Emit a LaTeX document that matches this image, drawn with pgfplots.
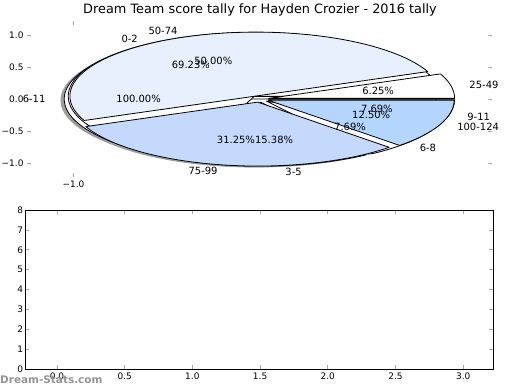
\documentclass[border=0pt]{standalone}
\usepackage{fontspec}
\setmainfont{DejaVu Sans}
\usepackage{pgfplots}
\pgfplotsset{compat=1.18}
\pgfkeys{/pgf/number format/assume math mode=true}

\definecolor{cA}{HTML}{E9F0FD}
\definecolor{cB}{HTML}{C5D9FD}
\definecolor{cC}{HTML}{B3D5FE}

\def\XU{186bp}
\def\YU{63.93bp}
\newcommand\lblfont{\fontsize{10}{12}\selectfont}

% counts per slice / fill colour / label
\def\pieC{1/white/6-11}
\def\pieB{9/white/0-2, 2/white/3-5, 1/white/6-8, 1/white/9-11}
\def\pieA{1/white/25-49, 8/cA/50-74, 5/cB/75-99, 2/cC/100-124}

% #1 mode (0 shadow, 1 wedges, 2 labels), #2 explode, #3 list
\newcommand\drawpie[3]{%
  \gdef\tot{0}%
  \foreach \v/\col/\lab in #3{\pgfmathsetmacro\t{\tot+\v}\xdef\tot{\t}}%
  \gdef\cumold{0}%
  \foreach \v/\col/\lab in #3{%
    \pgfmathsetmacro\cumnew{\cumold+\v}%
    \pgfmathsetmacro\sa{360*\cumold/\tot}%
    \pgfmathsetmacro\ea{360*\cumnew/\tot}%
    \pgfmathsetmacro\ma{(\sa+\ea)/2}%
    \pgfmathsetmacro\dx{#2*cos(\ma)}%
    \pgfmathsetmacro\dy{#2*sin(\ma)}%
    \pgfmathsetmacro\sx{186*cos(\sa)}%
    \pgfmathsetmacro\sy{63.93*sin(\sa)}%
    \ifcase#1
      \pgfmathsetmacro\sdx{\dx-0.02}%
      \pgfmathsetmacro\sdy{\dy-0.02}%
      \fill[black!38] (axis cs:\sdx,\sdy) -- ++(\sx bp,\sy bp)
        arc[start angle=\sa,end angle=\ea,x radius=\XU,y radius=\YU] -- cycle;
    \or
      \filldraw[fill=\col,draw=black,line width=0.8bp,line join=round]
        (axis cs:\dx,\dy) -- ++(\sx bp,\sy bp)
        arc[start angle=\sa,end angle=\ea,x radius=\XU,y radius=\YU] -- cycle;
    \or
      \pgfmathsetmacro\lx{\dx+1.1*cos(\ma)}%
      \pgfmathsetmacro\ly{\dy+1.1*sin(\ma)}%
      \pgfmathsetmacro\px{\dx+0.6*cos(\ma)}%
      \pgfmathsetmacro\py{\dy+0.6*sin(\ma)}%
      \pgfmathsetmacro\pct{100*\v/\tot}%
      \ifdim\lx pt>0pt \def\anc{west}\else\def\anc{east}\fi
      \node[anchor=\anc,inner sep=0pt,font=\lblfont] at (axis cs:\lx,\ly) {\lab};
      \node[inner sep=0pt,font=\lblfont] at (axis cs:\px,\py)
        {\pgfmathprintnumber[fixed,fixed zerofill,precision=2]{\pct}\%};
    \fi
    \xdef\cumold{\cumnew}%
  }%
}

\begin{document}
\begin{tikzpicture}
\useasboundingbox (0,0) rectangle (520bp,390bp);

\node[font=\fontsize{12.9}{15}\selectfont] at (260bp,380bp)
  {Dream Team score tally for Hayden Crozier - 2016 tally};

\begin{axis}[
  at={(27bp,213bp)}, anchor=south west, scale only axis,
  width=465bp, height=156bp,
  xmin=-1.25, xmax=1.25, ymin=-1.22, ymax=1.22,
  axis line style={draw=none},
  xtick={-1}, xticklabels={−1.0},
  ytick={-1,-0.5,0,0.5,1}, yticklabels={−1.0,−0.5,0.0,0.5,1.0},
  tick align=inside, major tick length=4bp,
  tick style={gray!70, line width=0.6bp},
  tick label style={font=\fontsize{9}{10}\selectfont},
  clip=false,
]
\pgfplotsextra{%
  \drawpie{0}{0.05}{\pieC}\drawpie{0}{0.05}{\pieB}\drawpie{0}{0.05}{\pieA}%
  \drawpie{1}{0.05}{\pieC}\drawpie{1}{0.05}{\pieB}\drawpie{1}{0.05}{\pieA}%
  \drawpie{2}{0.05}{\pieC}\drawpie{2}{0.05}{\pieB}\drawpie{2}{0.05}{\pieA}%
}
\end{axis}

\begin{axis}[
  at={(25bp,21bp)}, anchor=south west, scale only axis,
  width=468bp, height=159bp,
  xmin=-0.236, xmax=3.22, ymin=0, ymax=8,
  xtick={0,0.5,1,1.5,2,2.5,3}, xticklabels={0.0,0.5,1.0,1.5,2.0,2.5,3.0},
  ytick={0,1,2,3,4,5,6,7,8}, yticklabels={0,1,2,3,4,5,6,7,8},
  axis line style={black, line width=0.8bp},
  tick align=inside, major tick length=4bp,
  tick style={gray!70, line width=0.6bp},
  tick label style={font=\fontsize{9}{10}\selectfont},
  yticklabel style={xshift=1.5bp},
]
\end{axis}

\node[anchor=west, inner sep=0pt, text=black!42,
  font=\bfseries\fontsize{10.5}{12}\selectfont] at (0bp,10bp) {Dream-Stats.com};
\end{tikzpicture}
\end{document}
